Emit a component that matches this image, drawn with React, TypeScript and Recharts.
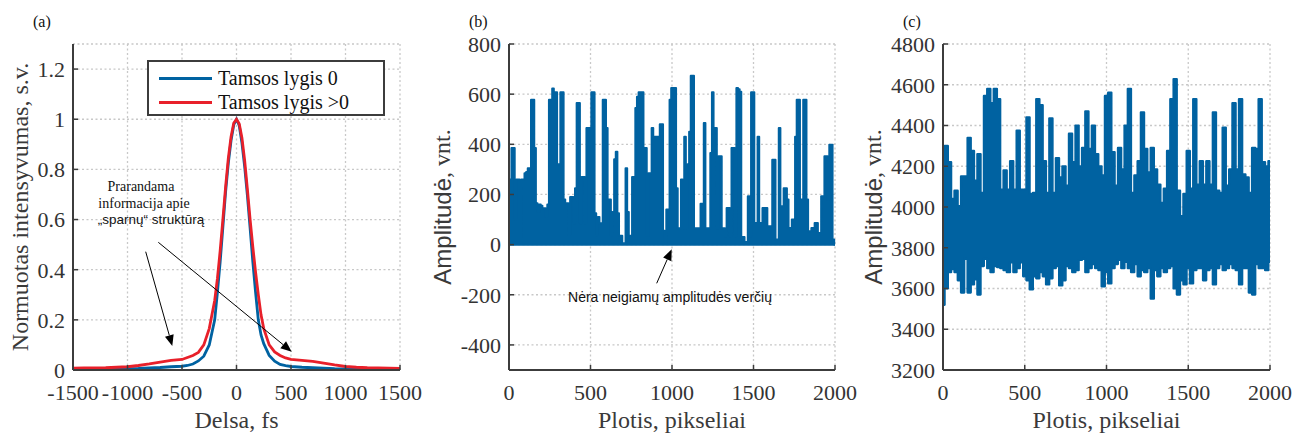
import React from 'react';
import {
  LineChart,
  Line,
  AreaChart,
  Area,
  XAxis,
  YAxis,
  CartesianGrid,
  Legend,
  Label,
  ReferenceLine,
} from 'recharts';

const SERIF = "'Liberation Serif', 'Times New Roman', serif";
const SANS = "'Liberation Sans', Arial, sans-serif";
const BLUE = '#0062a1';
const RED = '#e8202a';
const AXIS = '#3c3c3c';
const TICK_TEXT = '#333333';
const LABEL = '#3a3a3a';
const GRID = '#c8c8c8';

// (a) autokoreliacija
const delsa = [
  -1500, -1400, -1300, -1200, -1100, -1000, -900, -800, -700, -600, -500, -450, -400, -350, -300, -250,
  -200, -175, -150, -125, -100, -75, -50, -25, 0, 25, 50, 75, 100, 125, 150, 175, 200, 225, 250, 300,
  350, 400, 450, 500, 600, 700, 800, 900, 1000, 1100, 1200, 1300, 1400, 1500,
];
const tamsos0 = [
  0.002, 0.002, 0.003, 0.003, 0.004, 0.005, 0.006, 0.008, 0.01, 0.013, 0.015, 0.018, 0.024, 0.036, 0.055, 0.1,
  0.2, 0.31, 0.43, 0.57, 0.71, 0.825, 0.915, 0.978, 1, 0.975, 0.905, 0.81, 0.695, 0.565, 0.43, 0.31, 0.2, 0.14, 0.105, 0.058,
  0.035, 0.022, 0.017, 0.014, 0.011, 0.009, 0.007, 0.005, 0.004, 0.003, 0.003, 0.002, 0.002, 0.002,
];
const tamsosDaugiau = [
  0.007, 0.008, 0.008, 0.009, 0.011, 0.013, 0.018, 0.024, 0.031, 0.038, 0.042, 0.05, 0.058, 0.07, 0.1, 0.165,
  0.277, 0.365, 0.475, 0.6, 0.73, 0.845, 0.93, 0.985, 1, 0.982, 0.925, 0.835, 0.72, 0.6, 0.49, 0.39, 0.3, 0.22, 0.165, 0.1,
  0.072, 0.058, 0.048, 0.042, 0.038, 0.034, 0.027, 0.02, 0.014, 0.011, 0.009, 0.008, 0.007, 0.006,
];
const delsaTicks = [-1500, -1000, -500, 0, 500, 1000, 1500];
const intensTicks = [0, 0.2, 0.4, 0.6, 0.8, 1, 1.2];

// (b) amplitudė be neigiamų verčių, kas 10 pikselių
const STEP_B = 10;
const amplitudeB = [
  260, 260, 385, 385, 100, 260, 260, 5, 260, 260,
  285, 290, 305, 305, 578, 578, 385, 165, 130, 160,
  155, 145, 145, 110, 160, 578, 578, 623, 608, 608,
  320, 320, 608, 608, 180, 165, 165, 40, 190, 190,
  85, 225, 565, 565, 85, 270, 270, 85, 465, 465,
  465, 608, 608, 125, 35, 110, 85, 85, 578, 578,
  465, 180, 180, 35, 130, 340, 370, 125, 35, 35,
  5, 5, 305, 130, 35, 35, 270, 270, 545, 590,
  608, 608, 608, 385, 385, 35, 285, 285, 465, 430,
  430, 430, 430, 480, 480, 55, 10, 140, 140, 578,
  625, 625, 625, 225, 65, 65, 260, 65, 430, 65,
  320, 450, 673, 673, 65, 65, 65, 65, 163, 163,
  485, 65, 65, 65, 365, 608, 465, 465, 65, 352,
  352, 65, 65, 33, 146, 146, 33, 385, 385, 33,
  625, 620, 610, 30, 30, 10, 10, 193, 33, 608,
  608, 86, 86, 430, 86, 86, 146, 146, 146, 73,
  73, 73, 338, 338, 20, 20, 465, 153, 153, 225,
  225, 180, 66, 66, 100, 100, 430, 578, 578, 180,
  180, 578, 578, 180, 53, 53, 66, 66, 86, 86,
  46, 46, 193, 193, 352, 352, 180, 398, 398, 20,
  0,
];
const amplitudeBTicks = [-400, -200, 0, 200, 400, 600, 800];

// (c) pradinis signalas, viršutinė ir apatinė riba kas 20 pikselių
const STEP_C = 20;
const virsusC = [
  3900, 4300, 4220, 4040, 4080, 4005, 4150, 4150, 4340, 4275,
  4130, 4260, 4070, 4545, 4580, 4510, 4580, 4530, 4085, 4180,
  4085, 4225, 4085, 4375, 4085, 4085, 4440, 4065, 4070, 4530,
  4500, 4225, 4070, 4435, 4070, 4240, 4145, 4200, 4105, 4360,
  4220, 4400, 4200, 4290, 4470, 4285, 4400, 4260, 4200, 4155,
  4545, 4562, 4270, 4105, 4290, 4185, 4400, 4580, 4070, 4155,
  4225, 4465, 4285, 4170, 4290, 4185, 4110, 4020, 4090, 4275,
  4530, 4628, 4080, 3955, 4065, 4275, 4090, 4530, 4110, 4225,
  4110, 4225, 4110, 4465, 4080, 4070, 4390, 4105, 4185, 4510,
  4185, 4530, 4160, 4145, 4070, 4290, 4285, 4530, 4220, 4200,
  4225,
];
const apaciaC = [
  3520, 3600, 3680, 3695, 3680, 3640, 3580, 3745, 3580, 3620,
  3645, 3570, 3710, 3745, 3700, 3680, 3710, 3705, 3700, 3690,
  3680, 3728, 3680, 3700, 3728, 3660, 3640, 3595, 3660, 3650,
  3680, 3660, 3620, 3650, 3700, 3710, 3615, 3640, 3710, 3700,
  3680, 3690, 3740, 3745, 3680, 3700, 3720, 3700, 3690, 3610,
  3680, 3625, 3700, 3720, 3740, 3700, 3730, 3700, 3680, 3720,
  3660, 3690, 3680, 3700, 3550, 3690, 3660, 3700, 3680, 3700,
  3710, 3600, 3570, 3640, 3620, 3700, 3625, 3690, 3700, 3700,
  3640, 3690, 3700, 3620, 3700, 3720, 3690, 3700, 3720, 3700,
  3690, 3620, 3700, 3700, 3580, 3570, 3720, 3700, 3700, 3690,
  3730,
];
const amplitudeCTicks = [3200, 3400, 3600, 3800, 4000, 4200, 4400, 4600, 4800];
const plotisTicks = [0, 500, 1000, 1500, 2000];

const dataA = delsa.map((d, i) => ({ delsa: d, tamsos0: tamsos0[i], tamsosDaugiau: tamsosDaugiau[i] }));
const dataB = amplitudeB.map((v, i) => ({ plotis: i * STEP_B, amplitude: v }));
const dataC = virsusC.map((v, i) => ({ plotis: i * STEP_C, juosta: [apaciaC[i], v] }));

const tickStyle = { fill: TICK_TEXT, fontFamily: SERIF, fontSize: 22 };
const axisLine = { stroke: AXIS, strokeWidth: 2 };
const tickLine = { stroke: AXIS, strokeWidth: 1.5 };

const xLabel = (text: string) => (props: any) => {
  const { x, y, width, height } = props.viewBox;
  return (
    <text x={x + width / 2} y={y + height - 6} textAnchor="middle" fontFamily={SERIF} fontSize={24} fill={LABEL}>
      {text}
    </text>
  );
};

const yLabel = (parts: { t: string; f: string }[], dx: number) => (props: any) => {
  const { x, y, height } = props.viewBox;
  const cx = x + dx;
  const cy = y + height / 2;
  return (
    <text
      x={cx}
      y={cy}
      transform={`rotate(-90 ${cx} ${cy})`}
      textAnchor="middle"
      dominantBaseline="central"
      fontSize={24}
      fill={LABEL}
    >
      {parts.map((p, i) => (
        <tspan key={i} fontFamily={p.f}>
          {p.t}
        </tspan>
      ))}
    </text>
  );
};

const renderLegend = (props: any) => (
  <div
    style={{
      width: 238,
      height: 56,
      boxSizing: 'border-box',
      border: `2px solid ${AXIS}`,
      background: '#fff',
      fontFamily: SERIF,
      fontSize: 20,
      color: '#111',
      paddingTop: 4,
    }}
  >
    {(props.payload || []).map((entry: any, i: number) => (
      <div key={i} style={{ display: 'flex', alignItems: 'center', height: 24 }}>
        <div style={{ marginLeft: 10, width: 53, height: 3, background: entry.color }} />
        <span style={{ marginLeft: 6 }}>{entry.value}</span>
      </div>
    ))}
  </div>
);

// viršutinė ir dešinė rėmelio ašys su vidinėmis padalomis
function topAxis(domain: number[], ticks: number[]) {
  return (
    <XAxis
      xAxisId="top"
      orientation="top"
      type="number"
      domain={domain}
      ticks={ticks}
      height={0}
      tick={false}
      axisLine={axisLine}
      tickLine={tickLine}
      tickSize={-5}
    />
  );
}

function rightAxis(domain: number[], ticks: number[]) {
  return (
    <YAxis
      yAxisId="right"
      orientation="right"
      type="number"
      domain={domain}
      ticks={ticks}
      width={0}
      tick={false}
      axisLine={axisLine}
      tickLine={tickLine}
      tickSize={-5}
    />
  );
}

function PanelA() {
  return (
    <LineChart width={430} height={434} data={dataA} margin={{ top: 44, right: 30, bottom: 0, left: 0 }}>
      <CartesianGrid stroke={GRID} strokeDasharray="2 2.5" strokeWidth={1.3} />
      <XAxis
        dataKey="delsa"
        type="number"
        domain={[-1500, 1500]}
        ticks={delsaTicks}
        height={64}
        tick={tickStyle}
        axisLine={axisLine}
        tickLine={tickLine}
        tickSize={-5}
        tickMargin={19}
        interval={0}
      >
        <Label content={xLabel('Delsa, fs')} />
      </XAxis>
      {topAxis([-1500, 1500], delsaTicks)}
      <YAxis
        type="number"
        domain={[0, 1.3]}
        ticks={intensTicks}
        width={73}
        tick={tickStyle}
        axisLine={axisLine}
        tickLine={tickLine}
        tickSize={-5}
        tickMargin={13}
        interval={0}
      >
        <Label content={yLabel([{ t: 'Normuotas intensyvumas, s.v.', f: SERIF }], 20)} />
      </YAxis>
      {rightAxis([0, 1.3], intensTicks)}
      <Legend
        content={renderLegend}
        layout="horizontal"
        align="center"
        verticalAlign="middle"
        wrapperStyle={{ left: 147, top: 60, width: 238, height: 56 }}
      />
      <Line
        dataKey="tamsos0"
        name="Tamsos lygis 0"
        type="linear"
        stroke={BLUE}
        strokeWidth={2.8}
        dot={false}
        isAnimationActive={false}
      />
      <Line
        dataKey="tamsosDaugiau"
        name="Tamsos lygis >0"
        type="linear"
        stroke={RED}
        strokeWidth={2.8}
        dot={false}
        isAnimationActive={false}
      />
    </LineChart>
  );
}

function PanelB() {
  return (
    <AreaChart width={430} height={434} data={dataB} margin={{ top: 44, right: 25, bottom: 0, left: 0 }}>
      <CartesianGrid stroke={GRID} strokeDasharray="2 2.5" strokeWidth={1.3} />
      <XAxis
        dataKey="plotis"
        type="number"
        domain={[0, 2000]}
        ticks={plotisTicks}
        height={64}
        tick={tickStyle}
        axisLine={axisLine}
        tickLine={tickLine}
        tickSize={-5}
        tickMargin={19}
        interval={0}
      >
        <Label content={xLabel('Plotis, pikseliai')} />
      </XAxis>
      {topAxis([0, 2000], plotisTicks)}
      <YAxis
        type="number"
        domain={[-500, 800]}
        ticks={amplitudeBTicks}
        width={79}
        tick={tickStyle}
        axisLine={axisLine}
        tickLine={tickLine}
        tickSize={-5}
        tickMargin={13}
        interval={0}
      >
        <Label
          content={yLabel(
            [
              { t: 'Amplitudė', f: SANS },
              { t: ', vnt.', f: SERIF },
            ],
            12,
          )}
        />
      </YAxis>
      {rightAxis([-500, 800], amplitudeBTicks)}
      <ReferenceLine y={0} stroke={BLUE} strokeWidth={2.5} />
      <Area
        dataKey="amplitude"
        type="step"
        baseValue={0}
        stroke={BLUE}
        strokeWidth={2}
        strokeLinejoin="round"
        fill={BLUE}
        fillOpacity={1}
        dot={false}
        activeDot={false}
        isAnimationActive={false}
      />
    </AreaChart>
  );
}

function PanelC() {
  return (
    <AreaChart width={435} height={434} data={dataC} margin={{ top: 44, right: 25, bottom: 0, left: 0 }}>
      <CartesianGrid stroke={GRID} strokeDasharray="2 2.5" strokeWidth={1.3} />
      <XAxis
        dataKey="plotis"
        type="number"
        domain={[0, 2000]}
        ticks={plotisTicks}
        height={64}
        tick={tickStyle}
        axisLine={axisLine}
        tickLine={tickLine}
        tickSize={-5}
        tickMargin={19}
        interval={0}
      >
        <Label content={xLabel('Plotis, pikseliai')} />
      </XAxis>
      {topAxis([0, 2000], plotisTicks)}
      <YAxis
        type="number"
        domain={[3200, 4800]}
        ticks={amplitudeCTicks}
        width={83}
        tick={tickStyle}
        axisLine={axisLine}
        tickLine={tickLine}
        tickSize={-5}
        tickMargin={13}
        interval={0}
      >
        <Label
          content={yLabel(
            [
              { t: 'Amplitudė', f: SANS },
              { t: ', vnt.', f: SERIF },
            ],
            13,
          )}
        />
      </YAxis>
      {rightAxis([3200, 4800], amplitudeCTicks)}
      <Area
        dataKey="juosta"
        type="step"
        stroke={BLUE}
        strokeWidth={2.2}
        strokeLinejoin="round"
        fill={BLUE}
        fillOpacity={1}
        dot={false}
        activeDot={false}
        isAnimationActive={false}
      />
    </AreaChart>
  );
}

function Arrow({ x1, y1, x2, y2 }: { x1: number; y1: number; x2: number; y2: number }) {
  const len = Math.hypot(x2 - x1, y2 - y1);
  const ux = (x2 - x1) / len;
  const uy = (y2 - y1) / len;
  const hl = 11;
  const hw = 4.5;
  const bx = x2 - ux * hl;
  const by = y2 - uy * hl;
  const pts = `${x2},${y2} ${bx - uy * hw},${by + ux * hw} ${bx + uy * hw},${by - ux * hw}`;
  return (
    <g>
      <line x1={x1} y1={y1} x2={bx} y2={by} stroke="#000" strokeWidth={1} />
      <polygon points={pts} fill="#000" />
    </g>
  );
}

function Notes() {
  return (
    <svg
      width={1295}
      height={434}
      style={{ position: 'absolute', left: 0, top: 0, pointerEvents: 'none' }}
    >
      <text x={33} y={27} fontFamily={SERIF} fontSize={16} fill="#111">(a)</text>
      <text x={469} y={27} fontFamily={SERIF} fontSize={16} fill="#111">(b)</text>
      <text x={903} y={27} fontFamily={SERIF} fontSize={16} fill="#111">(c)</text>

      <text x={141} y={191} textAnchor="middle" fontFamily={SERIF} fontSize={14} fill="#111">Prarandama</text>
      <text x={144} y={208} textAnchor="middle" fontFamily={SERIF} fontSize={14} fill="#111">informacija apie</text>
      <text x={151} y={224} textAnchor="middle" fontFamily={SANS} fontSize={13.5} fill="#111">„sparnų“ struktūrą</text>
      <Arrow x1={145.7} y1={251.7} x2={172.3} y2={346} />
      <Arrow x1={158.3} y1={242.3} x2={291.7} y2={351.7} />

      <text x={670} y={302} textAnchor="middle" fontFamily={SANS} fontSize={14} fill="#111">Nėra neigiamų amplitudės verčių</text>
      <Arrow x1={656.7} y1={283.3} x2={671.7} y2={249.3} />
    </svg>
  );
}

export default function App() {
  return (
    <div style={{ position: 'absolute', left: 0, top: 0, width: 1295, height: 434, background: '#fff', overflow: 'hidden' }}>
      <div style={{ position: 'absolute', left: 0, top: 0 }}>
        <PanelA />
      </div>
      <div style={{ position: 'absolute', left: 430, top: 0 }}>
        <PanelB />
      </div>
      <div style={{ position: 'absolute', left: 860, top: 0 }}>
        <PanelC />
      </div>
      <Notes />
    </div>
  );
}
